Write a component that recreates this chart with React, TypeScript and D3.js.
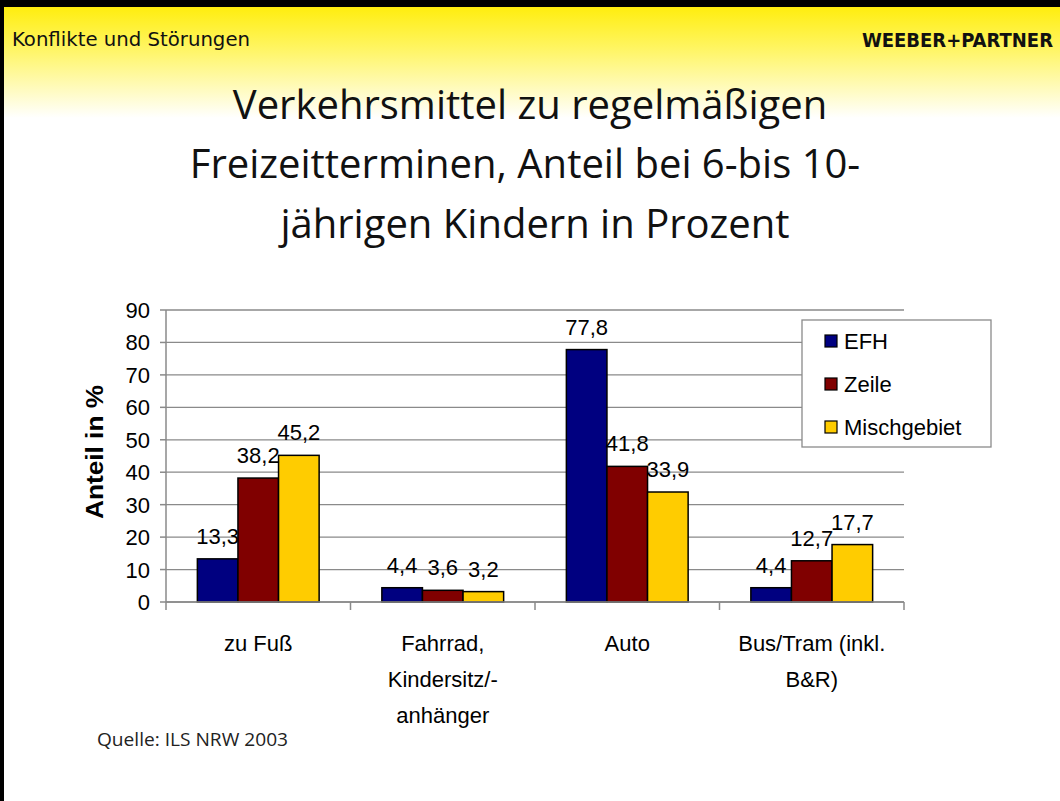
import React from 'react';
import * as d3 from 'd3';

const categories = [['zu Fuß'], ['Fahrrad,', 'Kindersitz/-', 'anhänger'], ['Auto'], ['Bus/Tram (inkl.', 'B&R)']];
const seriesNames = ['EFH', 'Zeile', 'Mischgebiet'];
const efh = [13.3, 4.4, 77.8, 4.4];
const zeile = [38.2, 3.6, 41.8, 12.7];
const misch = [45.2, 3.2, 33.9, 17.7];
const yTicks = [0, 10, 20, 30, 40, 50, 60, 70, 80, 90];
const colors = ['#000080', '#800000', '#FFCC00'];

const W = 1060;
const H = 801;
const plot = { left: 166, right: 904, top: 310, bottom: 602 };
const chartFont = '"Liberation Sans", Arial, sans-serif';
const headFont = '"Liberation Sans Narrow", "DejaVu Sans Condensed", "Open Sans", sans-serif';
const titleFont = '"Open Sans", "Noto Sans", sans-serif';

export default function App() {
  const series = [efh, zeile, misch];
  const x0 = d3.scaleBand<number>()
    .domain(d3.range(categories.length))
    .range([plot.left, plot.right])
    .paddingInner(0)
    .paddingOuter(0);
  const groupPad = 0.17;
  const x1 = d3.scaleBand<number>()
    .domain(d3.range(seriesNames.length))
    .range([x0.bandwidth() * groupPad, x0.bandwidth() * (1 - groupPad)]);
  const y = d3.scaleLinear().domain([0, 90]).range([plot.bottom, plot.top]);
  const fmt = (v: number) => d3.format('.1f')(v).replace('.', ',');

  return (
    <div style={{ position: 'absolute', left: 0, top: 0 }}>
      <svg width={W} height={H} style={{ display: 'block' }}>
        <defs>
          <linearGradient id="hdr" x1="0" y1="0" x2="0" y2="1">
            <stop offset="0" stopColor="#FFEC00" />
            <stop offset="0.4" stopColor="#FFF560" />
            <stop offset="1" stopColor="#FFFFFF" />
          </linearGradient>
        </defs>
        <rect x={0} y={0} width={W} height={H} fill="#fff" />
        <rect x={0} y={0} width={W} height={118} fill="url(#hdr)" />
        <rect x={0} y={0} width={W} height={7} fill="#000" />
        <rect x={0} y={0} width={4} height={H} fill="#000" />

        <text x={12} y={46} fontFamily={headFont} fontSize={20} fill="#111"
          textLength={238} lengthAdjust="spacingAndGlyphs">Konflikte und Störungen</text>
        <text x={1053} y={47} textAnchor="end" fontFamily={headFont} fontSize={20} fontWeight="bold" fill="#111">WEEBER+PARTNER</text>

        <g fontFamily={titleFont} fontSize={40} textAnchor="middle" fill="#111">
          <text x={530} y={119}>Verkehrsmittel zu regelmäßigen</text>
          <text x={525} y={178}>Freizeitterminen, Anteil bei 6-bis 10-</text>
          <text x={535} y={238}>jährigen Kindern in Prozent</text>
        </g>

        {/* gridlines */}
        <g>
          {yTicks.map(t => (
            <line key={t} x1={plot.left} x2={plot.right} y1={y(t)} y2={y(t)} stroke="#8a8a8a" strokeWidth={1.3} />
          ))}
        </g>

        {/* bars */}
        {series.map((vals, si) => (
          <g key={si}>
            {vals.map((v, ci) => (
              <rect key={ci}
                x={(x0(ci) as number) + (x1(si) as number)}
                y={y(v)}
                width={x1.bandwidth()}
                height={y(0) - y(v)}
                fill={colors[si]}
                stroke="#000"
                strokeWidth={1.5} />
            ))}
          </g>
        ))}

        {/* axes */}
        <line x1={plot.left} x2={plot.left} y1={plot.top} y2={plot.bottom} stroke="#8a8a8a" strokeWidth={1.5} />
        <line x1={plot.left} x2={plot.right} y1={plot.bottom} y2={plot.bottom} stroke="#8a8a8a" strokeWidth={1.5} />
        {yTicks.map(t => (
          <line key={t} x1={plot.left - 6} x2={plot.left} y1={y(t)} y2={y(t)} stroke="#8a8a8a" strokeWidth={1.5} />
        ))}
        {d3.range(categories.length + 1).map(i => {
          const xx = i < categories.length ? (x0(i) as number) : plot.right;
          return <line key={i} x1={xx} x2={xx} y1={plot.bottom} y2={plot.bottom + 8} stroke="#8a8a8a" strokeWidth={1.5} />;
        })}

        <g fontFamily={chartFont} fontSize={22} fill="#000">
          {yTicks.map(t => (
            <text key={t} x={150} y={y(t) + 8} textAnchor="end">{t}</text>
          ))}
          {categories.map((lines, ci) => (
            <text key={ci} textAnchor="middle" x={(x0(ci) as number) + x0.bandwidth() / 2} y={651}>
              {lines.map((l, li) => (
                <tspan key={li} x={(x0(ci) as number) + x0.bandwidth() / 2} dy={li === 0 ? 0 : 36}>{l}</tspan>
              ))}
            </text>
          ))}
          {series.map((vals, si) => vals.map((v, ci) => (
            <text key={si + '-' + ci} textAnchor="middle"
              x={(x0(ci) as number) + (x1(si) as number) + x1.bandwidth() / 2}
              y={y(v) - 15}>{fmt(v)}</text>
          )))}
        </g>

        <text transform="translate(103,452) rotate(-90)" textAnchor="middle" fontFamily={chartFont} fontSize={23} fontWeight="bold"
          textLength={134} lengthAdjust="spacingAndGlyphs">Anteil in %</text>

        {/* legend */}
        <rect x={802} y={320} width={189} height={127} fill="#fff" stroke="#8a8a8a" strokeWidth={1.3} />
        {seriesNames.map((n, i) => (
          <g key={n} transform={`translate(825,${341 + i * 43})`}>
            <rect x={0} y={-6} width={12} height={12} fill={colors[i]} stroke="#000" strokeWidth={1.2} />
            <text x={19} y={8} fontFamily={chartFont} fontSize={22}>{n}</text>
          </g>
        ))}

        <text x={97} y={746} fontFamily={titleFont} fontSize={18} fill="#222"
          textLength={191} lengthAdjust="spacingAndGlyphs">Quelle: ILS NRW 2003</text>
      </svg>
    </div>
  );
}
